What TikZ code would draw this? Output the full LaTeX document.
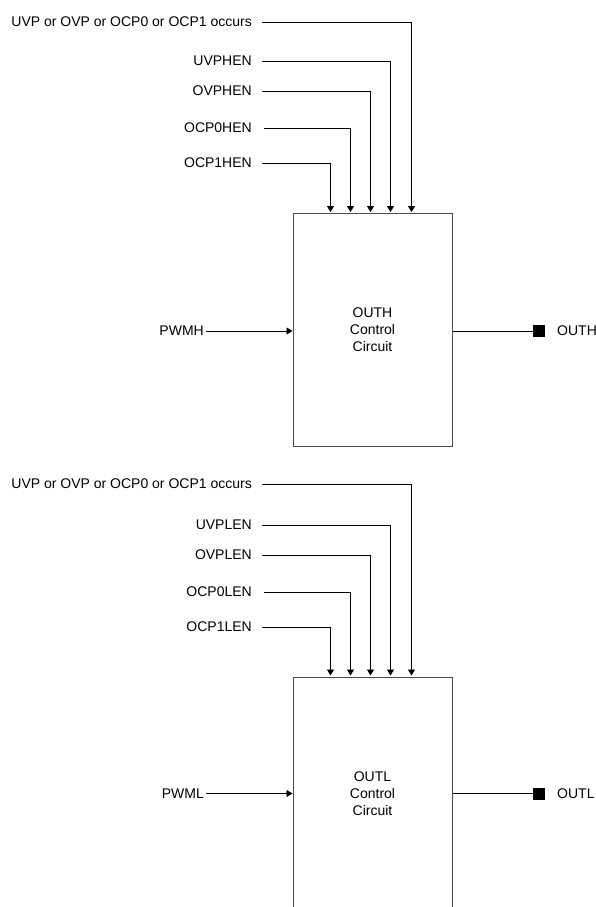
\documentclass[tikz,border=0pt]{standalone}
\usepackage{fontspec}
\setmainfont{Liberation Sans}
\usetikzlibrary{arrows.meta}
\begin{document}
\begin{tikzpicture}[x=1pt,y=-1pt,
  txt/.style={inner sep=0pt,font=\fontsize{14}{17}\selectfont},
  lbl/.style={txt,anchor=east,inner xsep=10pt},
  wire/.style={draw=black,line width=0.9pt},
  inarrow/.style={wire,-{Triangle[length=6pt,width=7pt]},shorten >=1pt},
  ctrl/.style={draw=black!70,line width=1pt,minimum width=159pt,minimum height=233pt,
    inner sep=0pt,align=center,font=\fontsize{14}{17}\selectfont},
  pin/.style={fill=black,minimum size=12pt,inner sep=0pt},
]
\useasboundingbox (0,0) rectangle (596,907);
\clip (0,0) rectangle (596,907);

% ---------- upper block ----------
\node[ctrl] (bh) at (372.5,330) {OUTH\\Control\\Circuit};
\node[lbl] (aH) at (262,22) {UVP or OVP or OCP0 or OCP1 occurs};
\node[lbl] (uH) at (262,61) {UVPHEN};
\node[lbl] (oH) at (262,91) {OVPHEN};
\node[lbl,inner xsep=12pt] (c0H) at (264,128) {OCP0HEN};
\node[lbl] (c1H) at (262,163) {OCP1HEN};
\draw[inarrow] (aH.east) -| ([xshift=119pt]bh.north west);
\draw[inarrow] (uH.east) -| ([xshift=98pt]bh.north west);
\draw[inarrow] (oH.east) -| ([xshift=78pt]bh.north west);
\draw[inarrow] (c0H.east) -| ([xshift=58pt]bh.north west);
\draw[inarrow] (c1H.east) -| ([xshift=38pt]bh.north west);
\node[txt,anchor=east,inner xsep=2pt] (pH) at (206,331) {PWMH};
\draw[wire,-{Triangle[length=6pt,width=7pt]}] (pH.east) -- (pH.east -| bh.west);
\node[pin] (sH) at (539,331) {};
\node[txt,anchor=west] (tH) at (557,331) {OUTH};
\draw[wire] (sH.west -| bh.east) -- (sH.west);

% ---------- lower block ----------
\node[ctrl] (bl) at (372.5,793.5) {OUTL\\Control\\Circuit};
\node[lbl] (aL) at (262,484) {UVP or OVP or OCP0 or OCP1 occurs};
\node[lbl] (uL) at (262,525) {UVPLEN};
\node[lbl] (oL) at (262,555) {OVPLEN};
\node[lbl,inner xsep=12pt] (c0L) at (264,592) {OCP0LEN};
\node[lbl] (c1L) at (262,627) {OCP1LEN};
\draw[inarrow] (aL.east) -| ([xshift=119pt]bl.north west);
\draw[inarrow] (uL.east) -| ([xshift=98pt]bl.north west);
\draw[inarrow] (oL.east) -| ([xshift=78pt]bl.north west);
\draw[inarrow] (c0L.east) -| ([xshift=58pt]bl.north west);
\draw[inarrow] (c1L.east) -| ([xshift=38pt]bl.north west);
\node[txt,anchor=east,inner xsep=2pt] (pL) at (206,793.5) {PWML};
\draw[wire,-{Triangle[length=6pt,width=7pt]}] (pL.east) -- (pL.east -| bl.west);
\node[pin] (sL) at (539,793.5) {};
\node[txt,anchor=west] (tL) at (557,793.5) {OUTL};
\draw[wire] (sL.west -| bl.east) -- (sL.west);
\end{tikzpicture}
\end{document}
